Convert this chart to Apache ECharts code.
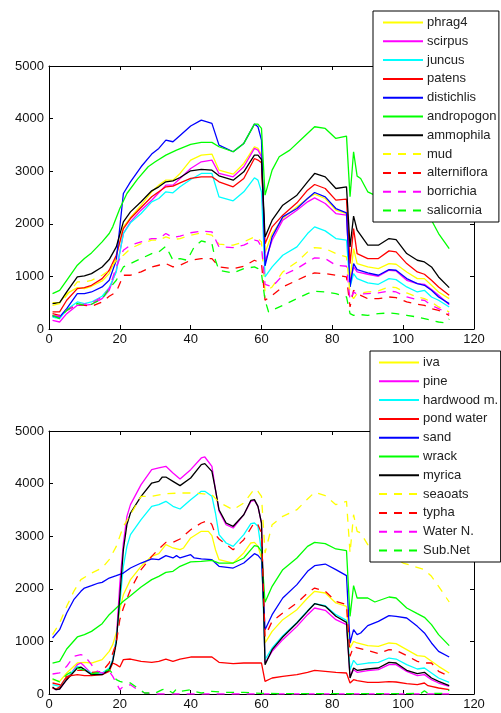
<!DOCTYPE html>
<html><head><meta charset="utf-8">
<script src="https://cdn.jsdelivr.net/npm/echarts@6/dist/echarts.min.js"></script>
<style>html,body{margin:0;padding:0;background:#fff}#c{width:501px;height:713px}</style>
</head><body><div id="c"></div>
<script>
// ---------- data ----------
const xTicks = [0, 20, 40, 60, 80, 100, 120];
const yTicks = [0, 1000, 2000, 3000, 4000, 5000];

const TX = [1,3,5,8,10,12,15,17,19,21,23,26,29,31,33,35,37,40,43,46,48,52,55,58,59,60,61,63,66,70,73,75,78,81,84,85,86,87,90,93,96,98,101,104,106,108,110,113];

const phrag4Y = [500,500,673,787,768,812,914,1053,1371,1942,2119,2354,2608,2735,2830,2830,2957,3211,3306,3325,3020,2944,3147,3465,3433,3306,1450,1815,2100,2322,2481,2563,2481,2259,2195,926,1529,1244,1180,1148,1244,1231,1085,958,958,831,704,577];
const scirpusY = [165,133,292,450,450,470,577,736,1117,1815,2037,2259,2449,2589,2735,2735,2862,3052,3179,3211,2957,2893,3084,3433,3401,3274,1280,1688,2069,2259,2418,2494,2386,2195,2164,863,1180,1085,1041,1003,1117,1104,926,863,850,749,641,463];
const juncusY = [228,197,368,514,482,514,622,787,1085,1815,2018,2195,2418,2481,2608,2589,2703,2843,2957,2957,2513,2437,2608,2874,2830,2608,990,1180,1402,1561,1815,1942,1865,1720,1688,800,1053,958,876,850,958,939,800,704,736,609,546,419];
const patensY = [324,324,546,768,787,831,958,1117,1402,1910,2100,2310,2513,2608,2703,2716,2779,2862,2893,2893,2798,2703,2862,3242,3211,3160,1620,1942,2164,2398,2640,2747,2671,2449,2468,1244,1910,1434,1339,1339,1485,1466,1244,1085,1041,926,800,641];
const distichlisY = [247,228,387,673,673,704,800,926,1307,2576,2798,3084,3325,3433,3591,3560,3680,3860,3972,3909,3496,3370,3528,3896,3845,3591,1200,1751,2132,2290,2481,2595,2513,2290,2208,800,1244,1129,1066,1022,1129,1117,958,863,831,736,609,482];
const ammophilaY = [482,500,704,990,1009,1053,1180,1320,1561,2037,2227,2418,2627,2703,2798,2817,2880,3008,3033,3020,2912,2830,2989,3306,3306,3223,1750,2069,2354,2544,2798,2957,2893,2671,2703,1561,2145,1878,1593,1593,1720,1700,1434,1307,1275,1180,990,787];
const mudY = [450,482,641,895,895,926,1022,1117,1307,1402,1529,1624,1688,1688,1751,1700,1720,1783,1827,1783,1612,1593,1656,1751,1720,1656,704,800,1085,1275,1466,1548,1529,1434,1371,673,577,673,704,723,800,787,685,609,577,514,419,324];
const alternifloraY = [292,260,355,470,450,431,514,622,704,1022,1022,1085,1180,1212,1244,1180,1212,1307,1339,1339,1180,1148,1193,1307,1275,1244,546,641,800,926,1022,1066,1053,1022,990,419,736,673,577,577,609,596,514,470,450,387,355,260];
const borrichiaY = [260,241,355,470,470,495,609,768,1180,1497,1593,1656,1720,1720,1815,1739,1764,1830,1859,1846,1561,1548,1593,1688,1675,1561,850,800,1022,1148,1275,1352,1339,1212,1193,546,704,660,673,685,723,704,609,558,546,450,387,292];
const andropogon = [[1,673],[3,736],[5,926],[8,1212],[10,1339],[12,1447],[15,1656],[17,1815],[18,1942],[20,2290],[22,2576],[25,2849],[28,3084],[30,3179],[33,3306],[36,3401],[40,3509],[43,3547],[46,3547],[48,3465],[52,3370],[55,3528],[58,3896],[59,3896],[60,3813],[61,2544],[63,3020],[65,3274],[68,3401],[72,3655],[75,3845],[78,3813],[81,3623],[84,3667],[85,2513],[86,3370],[87,2906],[88,2862],[90,2608],[95,2450],[100,2350],[104,2200],[108,2068],[110,1815],[113,1529]];
const salicornia = [[1,260],[3,197],[5,355],[8,482],[10,450],[12,470],[15,577],[17,768],[19,926],[20,1053],[21,1180],[23,1244],[26,1339],[29,1434],[31,1466],[33,1574],[35,1307],[37,1339],[39,1307],[41,1561],[43,1675],[46,1624],[47,1307],[48,1117],[52,1066],[55,1148],[58,1180],[59,1148],[60,1053],[61,546],[62,324],[63,355],[66,450],[70,577],[73,673],[75,717],[78,704],[81,673],[84,609],[85,292],[86,260],[87,279],[90,260],[93,292],[96,305],[98,292],[101,260],[104,228],[106,197],[108,165],[110,133],[112,114],[113,190]];

const iva = [[1,272],[3,241],[5,399],[8,589],[10,602],[12,589],[15,653],[17,811],[18,938],[19,1160],[20,1603],[21,1888],[23,2174],[26,2427],[29,2617],[31,2668],[33,2839],[35,2776],[37,2744],[38,2776],[40,2966],[43,3093],[45,3093],[46,3010],[47,2744],[48,2554],[52,2490],[55,2681],[57,2871],[58,2883],[59,2807],[60,2586],[61,970],[63,1191],[66,1413],[70,1603],[73,1825],[75,1952],[78,1920],[81,1730],[84,1667],[85,875],[86,1001],[87,970],[90,919],[93,906],[96,970],[98,957],[101,843],[104,729],[106,716],[108,621],[110,526],[113,399]];
const pine = [[1,114],[2,82],[3,95],[5,272],[8,558],[9,589],[10,526],[12,387],[15,387],[17,463],[18,653],[19,1033],[20,2110],[21,2871],[22,3378],[23,3600],[26,3980],[29,4265],[31,4297],[33,4328],[35,4202],[37,4087],[40,4265],[43,4487],[44,4506],[46,4328],[47,3885],[48,3480],[50,3219],[52,3156],[55,3409],[57,3663],[58,3682],[59,3568],[60,3251],[61,589],[63,811],[66,1033],[70,1286],[73,1508],[75,1635],[78,1591],[81,1413],[84,1318],[85,336],[86,463],[87,412],[90,444],[93,463],[96,558],[98,558],[101,431],[104,349],[106,368],[108,272],[110,209],[113,146]];
const hardwood = [[1,177],[3,146],[5,304],[8,526],[10,475],[12,399],[15,399],[17,494],[18,653],[19,1033],[20,1730],[21,2427],[22,2807],[23,3029],[26,3314],[29,3568],[31,3600],[33,3663],[35,3568],[37,3517],[40,3695],[43,3853],[44,3853],[46,3758],[47,3441],[48,3029],[50,2871],[52,2807],[55,3029],[57,3238],[58,3251],[59,3188],[60,2712],[61,653],[63,875],[66,1109],[70,1362],[73,1584],[75,1717],[78,1679],[81,1508],[84,1401],[85,463],[86,640],[87,558],[90,589],[93,602],[96,684],[98,665],[101,558],[104,475],[106,494],[108,399],[110,304],[113,222]];
const pondWater = [[1,114],[2,95],[3,133],[5,336],[8,368],[10,349],[12,349],[15,368],[17,431],[18,589],[19,558],[20,513],[21,653],[23,665],[26,621],[29,602],[31,621],[33,665],[35,621],[37,665],[40,703],[43,703],[46,703],[48,602],[52,577],[55,589],[58,589],[60,589],[61,241],[63,304],[66,336],[70,368],[73,412],[75,450],[78,431],[81,412],[84,399],[85,209],[86,272],[87,253],[90,222],[93,222],[96,234],[98,228],[101,196],[104,177],[106,209],[107,158],[110,114],[113,82]];
const sand = [[1,1065],[3,1223],[5,1540],[7,1793],[9,1952],[10,2015],[12,2060],[14,2110],[15,2123],[17,2205],[19,2250],[21,2300],[23,2395],[26,2490],[29,2567],[31,2554],[33,2630],[35,2586],[36,2630],[37,2586],[40,2649],[41,2586],[43,2567],[46,2554],[48,2427],[52,2395],[55,2490],[58,2668],[59,2636],[60,2554],[61,1223],[63,1508],[66,1825],[70,2079],[73,2332],[75,2440],[78,2471],[81,2364],[84,2250],[85,970],[86,1223],[87,1128],[88,1160],[90,1299],[93,1382],[96,1489],[98,1477],[101,1445],[104,1286],[106,1160],[108,970],[110,811],[113,703]];
const wrack = [[1,589],[3,621],[5,855],[8,1084],[10,1128],[12,1191],[15,1337],[17,1508],[19,1635],[21,1762],[23,1869],[26,2034],[29,2174],[31,2237],[33,2313],[35,2332],[37,2427],[40,2510],[43,2522],[46,2541],[48,2490],[52,2490],[55,2586],[58,2820],[59,2807],[60,2712],[61,1743],[63,2047],[66,2364],[70,2586],[73,2807],[75,2883],[78,2858],[81,2757],[84,2725],[85,1477],[86,2060],[87,1825],[90,1825],[92,1749],[96,1844],[98,1825],[101,1635],[104,1527],[106,1458],[108,1318],[110,1128],[113,919]];
const myrica = [[1,133],[2,82],[3,95],[5,272],[8,494],[9,513],[10,463],[12,368],[15,368],[17,463],[18,621],[19,970],[20,1857],[21,2744],[22,3219],[23,3441],[26,3758],[29,4011],[31,4043],[32,4125],[33,4125],[35,4043],[37,3961],[40,4106],[43,4360],[44,4379],[46,4233],[47,3885],[48,3504],[50,3251],[52,3188],[55,3409],[57,3682],[58,3695],[59,3568],[60,3251],[61,558],[63,843],[66,1084],[70,1350],[73,1572],[75,1717],[78,1667],[81,1477],[84,1362],[85,304],[86,494],[87,450],[90,475],[93,494],[96,602],[98,589],[101,450],[104,387],[106,412],[108,304],[110,241],[113,158]];
const seaoats = [[1,1128],[3,1350],[5,1667],[7,1952],[9,2174],[12,2300],[15,2395],[17,2554],[19,2807],[21,3188],[23,3409],[26,3758],[29,3758],[33,3808],[37,3821],[40,3821],[43,3808],[46,3790],[48,3644],[52,3504],[55,3631],[58,3897],[59,3853],[60,3758],[61,2681],[63,3219],[66,3378],[70,3504],[73,3707],[75,3834],[78,3771],[81,3600],[84,3663],[85,2681],[86,3409],[87,3093],[88,3061],[90,2839],[93,2750],[96,2650],[100,2490],[103,2427],[106,2364],[108,2237],[110,2047],[113,1749]];
const typha = [[1,209],[3,177],[5,304],[8,450],[10,450],[12,412],[15,431],[17,589],[19,970],[20,1413],[21,1635],[23,1984],[26,2364],[29,2617],[31,2757],[33,2883],[35,2883],[37,2947],[40,3124],[43,3251],[45,3302],[46,3219],[47,3029],[48,2947],[52,2744],[55,2934],[58,3264],[59,3219],[60,3061],[61,1096],[63,1382],[66,1540],[70,1730],[73,1920],[75,2015],[78,1952],[81,1762],[84,1698],[85,716],[86,906],[87,875],[90,830],[93,767],[96,843],[98,830],[101,729],[104,621],[106,589],[108,589],[110,431],[113,336]];
const waterN = [[1,380],[3,400],[5,526],[7,716],[9,748],[10,729],[12,558],[13,450],[15,399],[17,431],[18,336],[19,209],[20,82],[21,146],[23,177],[25,82],[27,19],[30,0],[60,0],[85,0],[113,0]];
const subNet = [[1,290],[3,230],[5,368],[8,494],[10,450],[12,387],[15,412],[17,463],[18,387],[19,272],[20,241],[21,222],[23,209],[25,114],[27,19],[30,19],[32,82],[33,95],[35,19],[36,95],[37,51],[40,82],[41,51],[43,19],[46,51],[50,32],[55,32],[60,10],[85,5],[105,10],[106,60],[107,10],[112,10],[113,80]];

const zip = (xs, ys) => xs.map((x, i) => [x, ys[i]]);

const C = {y:'#FFFF00', m:'#FF00FF', c:'#00FFFF', r:'#FF0000', b:'#0000FF', g:'#00FF00', k:'#000000'};
const topDefs = [
  ['phrag4', zip(TX, phrag4Y), C.y, 'solid'],
  ['scirpus', zip(TX, scirpusY), C.m, 'solid'],
  ['juncus', zip(TX, juncusY), C.c, 'solid'],
  ['patens', zip(TX, patensY), C.r, 'solid'],
  ['distichlis', zip(TX, distichlisY), C.b, 'solid'],
  ['andropogon', andropogon, C.g, 'solid'],
  ['ammophila', zip(TX, ammophilaY), C.k, 'solid'],
  ['mud', zip(TX, mudY), C.y, 'dashed'],
  ['alterniflora', zip(TX, alternifloraY), C.r, 'dashed'],
  ['borrichia', zip(TX, borrichiaY), C.m, 'dashed'],
  ['salicornia', salicornia, C.g, 'dashed']
];
const botDefs = [
  ['iva', iva, C.y, 'solid'],
  ['pine', pine, C.m, 'solid'],
  ['hardwood m.', hardwood, C.c, 'solid'],
  ['pond water', pondWater, C.r, 'solid'],
  ['sand', sand, C.b, 'solid'],
  ['wrack', wrack, C.g, 'solid'],
  ['myrica', myrica, C.k, 'solid'],
  ['seaoats', seaoats, C.y, 'dashed'],
  ['typha', typha, C.r, 'dashed'],
  ['Water N.', waterN, C.m, 'dashed'],
  ['Sub.Net', subNet, C.g, 'dashed']
];

// ---------- chart ----------
const FONT = 'Liberation Sans, Arial, sans-serif';
const DASH = [8, 7];
function mkSeries(defs, axisIdx) {
  return defs.map(([name, data, color, style]) => ({
    name, type: 'line', data, xAxisIndex: axisIdx, yAxisIndex: axisIdx,
    symbol: 'none', showSymbol: false, smooth: false, silent: true,
    lineStyle: { color, width: 1.3, type: style === 'dashed' ? DASH : 'solid' },
    itemStyle: { color }
  }));
}
function xAx(grid, pos, labels) {
  return {
    type: 'value', gridIndex: grid, position: pos, min: 0, max: 120, interval: 20,
    axisLine: { show: true, onZero: false, lineStyle: { color: '#000', width: 1 } },
    axisTick: { show: true, inside: true, length: 4, lineStyle: { color: '#000' } },
    axisLabel: { show: labels, color: '#111', fontSize: 13, fontFamily: FONT, margin: 4,
                 formatter: v => String(v) },
    splitLine: { show: false }
  };
}
function yAx(grid, pos, labels) {
  return {
    type: 'value', gridIndex: grid, position: pos, min: 0, max: 5000, interval: 1000,
    axisLine: { show: true, onZero: false, lineStyle: { color: '#000', width: 1 } },
    axisTick: { show: true, inside: true, length: 4, lineStyle: { color: '#000' } },
    axisLabel: { show: labels, color: '#111', fontSize: 13, fontFamily: FONT, margin: 5,
                 formatter: v => String(v) },
    splitLine: { show: false }
  };
}
function legend(defs, left, top, padL) {
  return {
    data: defs.map(d => d[0]), orient: 'vertical', left, top,
    itemWidth: 40, itemHeight: 14, itemGap: 4.8,
    padding: [4.5, 2.5, 4.5, padL],
    backgroundColor: '#fff', borderColor: '#000', borderWidth: 1, borderRadius: 0,
    itemStyle: { opacity: 0, borderWidth: 0 },
    textStyle: { color: '#222', fontSize: 13, fontFamily: FONT, lineHeight: 14, padding: [0, 0, 0, -1] },
    selectedMode: false, z: 10
  };
}

const chart = echarts.init(document.getElementById('c'), null, { renderer: 'canvas' });
chart.setOption({
  animation: false,
  backgroundColor: '#fff',
  grid: [
    { left: 49, width: 425, top: 66, height: 263 },
    { left: 49, width: 425, top: 431, height: 263 }
  ],
  xAxis: [xAx(0, 'bottom', true), xAx(0, 'top', false), xAx(1, 'bottom', true), xAx(1, 'top', false)],
  yAxis: [yAx(0, 'left', true), yAx(0, 'right', false), yAx(1, 'left', true), yAx(1, 'right', false)],
  legend: [legend(topDefs, 373, 11, 9), legend(botDefs, 370, 351, 8)],
  series: mkSeries(topDefs, 0).concat(mkSeries(botDefs, 2))
});
</script></body></html>
